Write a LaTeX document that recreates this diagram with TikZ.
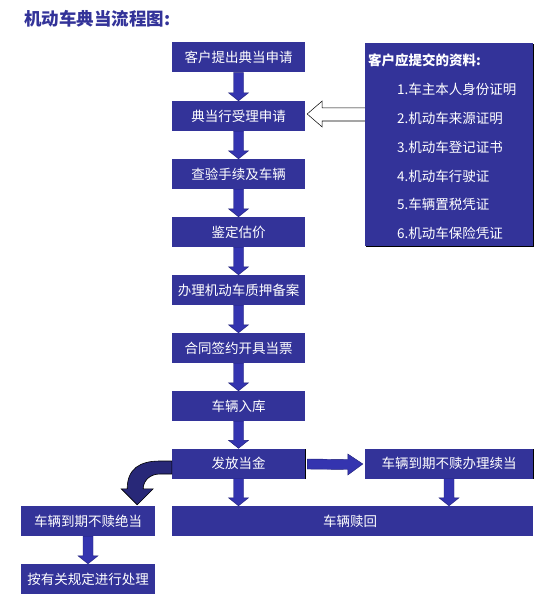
\documentclass[tikz,border=0pt]{standalone}
\usepackage{fontspec}
\setmainfont{Noto Sans CJK SC}
\newfontfamily\cjk{Noto Sans CJK SC}
\usetikzlibrary{calc}
\definecolor{boxblue}{RGB}{51,51,153}
\definecolor{arrblue}{RGB}{52,52,175}
\definecolor{arredge}{RGB}{30,30,120}
\definecolor{curvblue}{RGB}{40,40,120}
\begin{document}
\begin{tikzpicture}[x=1pt,y=-1pt,
  stepbox/.style={fill=boxblue,text=white,minimum width=133pt,minimum height=30pt,inner sep=0pt,font=\cjk\fontsize{13.5}{14}\selectfont},
  shadowed/.style={preaction={fill=black,transform canvas={shift={(0.8pt,-0.9pt)}}}},
  infotext/.style={text=white,anchor=west,inner sep=0pt,font=\cjk\fontsize{13.5}{14}\selectfont},
  blockarr/.style={fill=arrblue,draw=arredge,line width=0.4pt}
]
\useasboundingbox (0,0) rectangle (559,607);
\fill[white] (0,0) rectangle (559,607);

\node[anchor=west,text=boxblue,inner sep=0pt,font=\cjk\bfseries\fontsize{17.5}{19}\selectfont] (title) at (24,19) {机动车典当流程图:};

\node[stepbox] (s1) at (238.5,57.5) {客户提出典当申请};
\node[stepbox] (s2) at (238.5,116) {典当行受理申请};
\node[stepbox] (s3) at (238.5,174) {查验手续及车辆};
\node[stepbox] (s4) at (238.5,232) {鉴定估价};
\node[stepbox] (s5) at (238.5,290) {办理机动车质押备案};
\node[stepbox] (s6) at (238.5,348) {合同签约开具当票};
\node[stepbox] (s7) at (238.5,406) {车辆入库};
\node[stepbox,shadowed] (s8) at (238.5,463.5) {发放当金};
\node[stepbox,shadowed,minimum width=168pt] (xd) at (449,463.5) {车辆到期不赎办理续当};
\node[stepbox,minimum width=361pt] (sh) at (352.5,521) {\hspace*{-5pt}车辆赎回};
\node[stepbox,minimum width=134pt] (jd) at (88,521) {车辆到期不赎绝当};
\node[stepbox,minimum width=134pt] (cl) at (88,579) {按有关规定进行处理};

\node[fill=boxblue,shadowed,minimum width=168pt,minimum height=203pt,inner sep=0pt] (info) at (449,144.5) {};
\node[infotext,font=\cjk\bfseries\fontsize{13.5}{14}\selectfont] (ih) at (368,60) {客户应提交的资料:};
\node[infotext] (i1) at (397,89) {1.车主本人身份证明};
\node[infotext] (i2) at (397,118) {2.机动车来源证明};
\node[infotext] (i3) at (397,147) {3.机动车登记证书};
\node[infotext] (i4) at (397,176) {4.机动车行驶证};
\node[infotext] (i5) at (397,204.5) {5.车辆置税凭证};
\node[infotext] (i6) at (397,233) {6.机动车保险凭证};

% down block arrows
\newcommand\dnarrow[2]{%
  \path[blockarr] ($(#1.south)+(-5,0)$) -- ($(#1.south |- #2.north)+(-5,-8)$) -- ($(#1.south |- #2.north)+(-10,-8)$)
   -- ($(#1.south |- #2.north)$) -- ($(#1.south |- #2.north)+(10,-8)$) -- ($(#1.south |- #2.north)+(5,-8)$)
   -- ($(#1.south)+(5,0)$) -- cycle;}
\dnarrow{s1}{s2}
\dnarrow{s2}{s3}
\dnarrow{s3}{s4}
\dnarrow{s4}{s5}
\dnarrow{s5}{s6}
\dnarrow{s6}{s7}
\dnarrow{s7}{s8}
\dnarrow{s8}{sh}
\dnarrow{xd}{sh}
\dnarrow{jd}{cl}

% hollow arrow from info box to s2
\coordinate (ht) at ($(s2.east)+(2,-2)$);
\path[fill=white,draw=black,line width=0.5pt] (info.west |- ht) ++(0,-6) -- ($(ht)+(15,-6)$) -- ($(ht)+(15,-13)$) -- (ht)
  -- ($(ht)+(15,13)$) -- ($(ht)+(15,7)$) -- ($(info.west |- ht)+(0,7)$);

% right arrow s8 -> xd
\coordinate (rt) at ($(xd.west)+(-2,0.5)$);
\path[blockarr] ($(s8.east)+(2,-4.5)$) -- ($(rt)+(-15,-4.5)$) -- ($(rt)+(-15,-10)$) -- (rt)
  -- ($(rt)+(-15,11)$) -- ($(rt)+(-15,5.5)$) -- ($(s8.east)+(2,5.5)$) -- cycle;

% curved arrow s8 -> jd
\coordinate (ct) at ($(jd.north east)+(-18,-1)$);
\path[fill=curvblue,draw=black,line width=0.6pt]
  ($(s8.west)+(0,-2.5)$) -- ($(s8.west)+(-12,-2.5)$)
  .. controls ($(s8.west)+(-32,-2.5)$) and ($(ct)+(-10,-36)$) .. ($(ct)+(-10,-16)$)
  -- ($(ct)+(-16,-16)$) -- (ct) -- ($(ct)+(16,-16)$) -- ($(ct)+(6,-16)$)
  .. controls ($(ct)+(6,-24)$) and ($(s8.west)+(-22,10.5)$) .. ($(s8.west)+(-12,10.5)$)
  -- ($(s8.west)+(0,10.5)$) -- cycle;
\end{tikzpicture}
\end{document}
